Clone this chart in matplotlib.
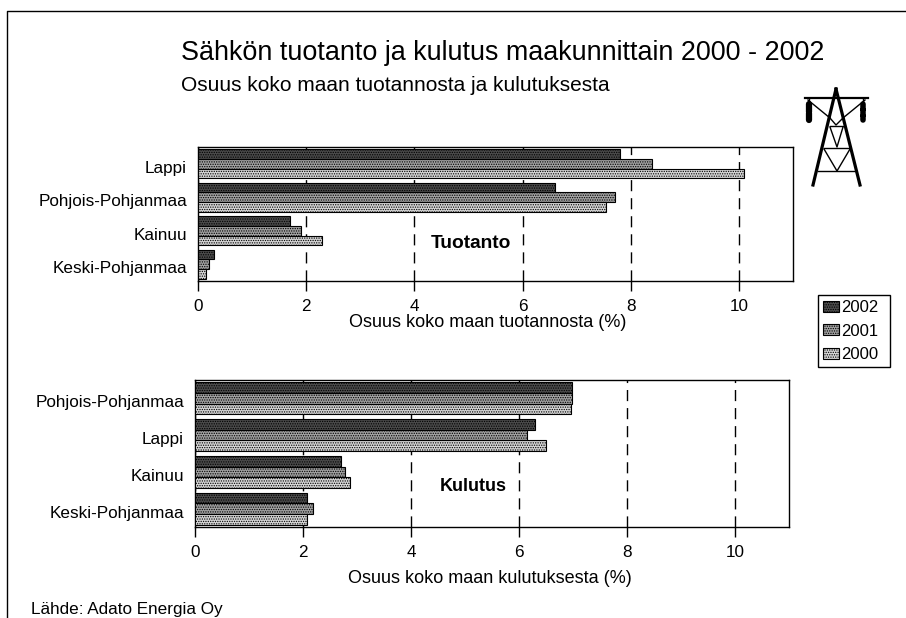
import matplotlib
matplotlib.use('Agg')
import numpy as np
import matplotlib.pyplot as plt
from matplotlib.transforms import ScaledTranslation

plt.rcParams['font.family'] = ['Liberation Sans', 'DejaVu Sans']
plt.rcParams['hatch.linewidth'] = 0.6

years = ['2002', '2001', '2000']
colors = ['#4a4a4a', '#a0a0a0', '#d4d4d4']

prod_regions = ['Lappi', 'Pohjois-Pohjanmaa', 'Kainuu', 'Keski-Pohjanmaa']
prod_2002 = [7.8, 6.6, 1.7, 0.3]
prod_2001 = [8.4, 7.7, 1.9, 0.2]
prod_2000 = [10.1, 7.55, 2.3, 0.15]

cons_regions = ['Pohjois-Pohjanmaa', 'Lappi', 'Kainuu', 'Keski-Pohjanmaa']
cons_2002 = [6.98, 6.3, 2.7, 2.08]
cons_2001 = [6.98, 6.15, 2.78, 2.18]
cons_2000 = [6.97, 6.5, 2.87, 2.07]

W, H = 906, 618
fig = plt.figure(figsize=(W / 100, H / 100), dpi=100)


def px_axes(left, top, right, bottom):
    return fig.add_axes([left / W, 1 - bottom / H, (right - left) / W, (bottom - top) / H])


def bars(ax, regions, series, xlabel, name, name_x, name_y, size, label_x, label_pad):
    y = np.arange(len(regions))
    h = 0.29
    for i, vals in enumerate(series):
        ax.barh(y + (i - 1) * h, vals, h, color=colors[i], edgecolor='black',
                linewidth=0.8, hatch='.......', label=years[i], zorder=3)
    ax.set_xlim(0, 11)
    ax.set_ylim(3.5, -0.5)
    ax.set_yticks(y, regions)
    ax.set_xticks([0, 2, 4, 6, 8, 10])
    ax.tick_params(axis='y', length=0, pad=8, labelsize=12.3)
    ax.tick_params(axis='x', length=7, width=1, pad=6, labelsize=12.3)
    # region names sit a little below the bar group centres
    shift = ScaledTranslation(0, -3 / 100, fig.dpi_scale_trans)
    for lab in ax.get_yticklabels():
        lab.set_transform(lab.get_transform() + shift)
    ax.grid(axis='x', color='black', linestyle=(0, (8, 5)), linewidth=1, zorder=1)
    ax.set_xlabel(xlabel, fontsize=13, labelpad=label_pad, x=label_x)
    ax.text(name_x, name_y, name, fontsize=size, fontweight='bold', ha='center', va='center')
    for s in ax.spines.values():
        s.set_linewidth(1)


ax1 = px_axes(198, 147, 793, 281)
bars(ax1, prod_regions, [prod_2002, prod_2001, prod_2000],
     'Osuus koko maan tuotannosta (%)', 'Tuotanto', 5.05, 2.38, 13.8, 0.487, 0)

ax2 = px_axes(195, 380, 789, 527)
bars(ax2, cons_regions, [cons_2002, cons_2001, cons_2000],
     'Osuus koko maan kulutuksesta (%)', 'Kulutus', 5.15, 2.39, 13, 0.497, 7)

handles, labels = ax1.get_legend_handles_labels()
fig.legend(handles, labels, loc='upper left',
           bbox_to_anchor=(818 / W, 1 - 367 / H, 72 / W, 72 / H), mode='expand',
           fontsize=12, frameon=True, fancybox=False, edgecolor='black', framealpha=1,
           handlelength=0.95, handleheight=0.65, handletextpad=0.15, labelspacing=0.52,
           borderpad=0.3, borderaxespad=0)

# overlay in pixel coordinates for the page frame and the pylon icon
over = fig.add_axes([0, 0, 1, 1], facecolor='none', zorder=5)
over.set_xlim(0, W)
over.set_ylim(H, 0)
over.axis('off')
over.plot([7, 7, 906], [H, 11, 11], color='black', lw=1)

legs = [([836, 813], [89, 185]), ([836, 860], [89, 185])]
for xs, ys in legs:
    over.plot(xs, ys, color='black', lw=2.3)
over.plot([805, 868], [98, 98], color='black', lw=1.6)
pylon = [([808, 830], [100, 118]), ([865, 843], [100, 118]),
         ([830, 836, 843], [118, 125, 118]), ([830, 843], [126, 126]),
         ([830, 837, 843], [127, 147, 127]), ([824, 850], [148, 148]),
         ([824, 837, 850], [149, 171, 149]), ([818, 855], [171, 171])]
for xs, ys in pylon:
    over.plot(xs, ys, color='black', lw=1)
over.plot([809, 809], [99, 104], color='black', lw=1)
over.plot([863, 863], [99, 104], color='black', lw=1)
over.plot([809, 809], [104, 120], color='black', lw=4.5, dash_capstyle='round',
          linestyle=(0, (1.3, 0.2)))
over.plot([863, 863], [104, 120], color='black', lw=4, dash_capstyle='round',
          linestyle=(0, (0.9, 0.2)))

fig.text(181 / W, 1 - 60 / H, 'Sähkön tuotanto ja kulutus maakunnittain 2000 - 2002',
         fontsize=19.4, va='baseline')
fig.text(181 / W, 1 - 91 / H, 'Osuus koko maan tuotannosta ja kulutuksesta',
         fontsize=15, va='baseline')
fig.text(31 / W, 1 - 614 / H, 'Lähde: Adato Energia Oy', fontsize=12.3, va='baseline')

fig.savefig('out.png', dpi=100)
